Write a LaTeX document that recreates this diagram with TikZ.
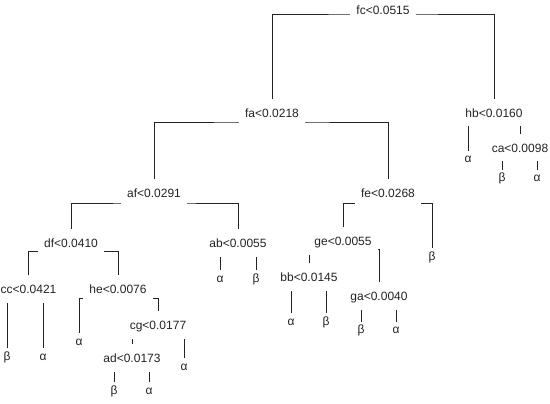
\documentclass[tikz,border=0pt]{standalone}
\usepackage{fontspec}
\setmainfont{Liberation Sans}
\usetikzlibrary{backgrounds}
\definecolor{inkC}{RGB}{35,35,35}
\tikzset{
	condlabel/.style={fill=white, text=inkC, font=\fontsize{12}{14}\selectfont,
		inner xsep=6.5pt, inner ysep=0pt, text height=8.6pt, text depth=0pt,
		minimum height=27pt},
	leaflabel/.style={text=inkC, font=\fontsize{12}{14}\selectfont,
		inner xsep=0pt, inner ysep=6pt, text height=6pt, text depth=0pt},
	branch/.style={draw=inkC, line width=0.9pt},
}

\begin{document}
\begin{tikzpicture}[x=1pt, y=-1pt]
		\useasboundingbox (0,0) rectangle (550,404);
		
		% ================= Splits =================
		\node[condlabel] (fc) at (383,10) {fc<0.0515};
		\node[condlabel] (fa) at (272,113) {fa<0.0218};
		\node[condlabel] (hb) at (494,113) {hb<0.0160};
		\node[condlabel] (ca) at (520,148) {ca<0.0098};
		\node[condlabel] (af) at (154,193) {af<0.0291};
		\node[condlabel] (fe) at (388,193) {fe<0.0268};
		\node[condlabel] (df) at (71,243) {df<0.0410};
		\node[condlabel] (ab) at (238,243) {ab<0.0055};
		\node[condlabel] (ge) at (343,241) {ge<0.0055};
		\node[condlabel] (bb) at (309,277) {bb<0.0145};
		\node[condlabel] (ga) at (379,296) {ga<0.0040};
		\node[condlabel] (cc) at (28.5,289) {cc<0.0421};
		\node[condlabel] (he) at (118,289) {he<0.0076};
		\node[condlabel] (cg) at (158,325) {cg<0.0177};
		\node[condlabel] (ad) at (132,358) {ad<0.0173};
		
		% ================= Leaves =================
		\node[leaflabel] (hbL) at (468,160) {α};
		\node[leaflabel] (caL) at (502,179) {β};
		\node[leaflabel] (caR) at (537,179) {α};
		\node[leaflabel] (feR) at (432,257) {β};
		\node[leaflabel] (abL) at (220,279) {α};
		\node[leaflabel] (abR) at (256,279) {β};
		\node[leaflabel] (bbL) at (291,322) {α};
		\node[leaflabel] (bbR) at (326,322) {β};
		\node[leaflabel] (gaL) at (361,331) {β};
		\node[leaflabel] (gaR) at (396,331) {α};
		\node[leaflabel] (heL) at (79,342) {α};
		\node[leaflabel] (ccL) at (7,357) {β};
		\node[leaflabel] (ccR) at (43,357) {α};
		\node[leaflabel] (cgR) at (184,367) {α};
		\node[leaflabel] (adL) at (114,391) {β};
		\node[leaflabel] (adR) at (149,391) {α};
		
		% ================= Branches (behind the labels) =================
		\begin{scope}[on background layer]
			\foreach \p/\l/\r/\d in {fc/fa/hb/4, fa/af/fe/9, hb/hbL/ca/9,
				ca/caL/caR/9, af/df/ab/10, fe/ge/feR/10, df/cc/he/8,
				ab/abL/abR/9, ge/bb/ga/8, bb/bbL/bbR/9, ga/gaL/gaR/9,
				cc/ccL/ccR/9, he/heL/cg/9, cg/ad/cgR/9, ad/adL/adR/9}
			\draw[branch] (\l.north) |- ([yshift=-\d pt]\p.center) -| (\r.north);
		\end{scope}
		
	\end{tikzpicture}
\end{document}
